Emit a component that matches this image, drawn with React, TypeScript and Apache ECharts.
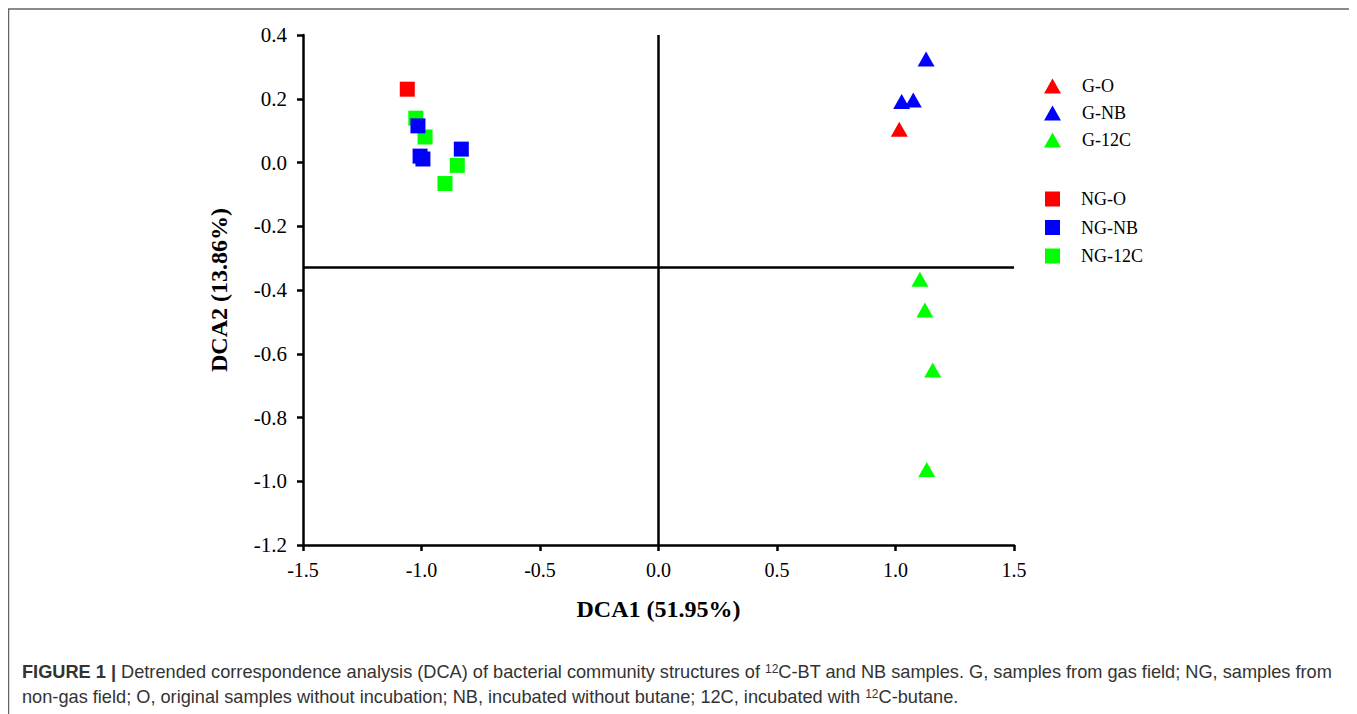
import React, { useEffect, useRef } from "react";
import * as echarts from "echarts";

const gO: number[][] = [[1.016, 0.104]];
const gNB: number[][] = [[1.129, 0.325], [1.026, 0.191], [1.075, 0.196]];
const g12C: number[][] = [[1.103, -0.366], [1.124, -0.463], [1.157, -0.651], [1.132, -0.963]];
const ngO: number[][] = [[-1.06, 0.23]];
const ngNB: number[][] = [[-1.015, 0.115], [-1.006, 0.02], [-0.994, 0.011], [-0.832, 0.042]];
const ng12C: number[][] = [[-1.024, 0.139], [-0.985, 0.08], [-0.849, -0.009], [-0.901, -0.066]];

const xCross = 0;
const yCross = -0.325;

const RED = "#FF0000";
const BLUE = "#0000FF";
const GREEN = "#00FF00";
const SERIF = "'Liberation Serif', 'Times New Roman', serif";
const SANS = "'Liberation Sans', Arial, sans-serif";

export default function App() {
  const ref = useRef<HTMLDivElement>(null);
  useEffect(() => {
    const chart = echarts.init(ref.current!, null, { renderer: "svg" });
    const tri = (name: string, data: number[][], color: string) => ({
      name, type: "scatter", data, symbol: "triangle", symbolSize: [17, 15],
      itemStyle: { color, opacity: 1 }, z: 3,
    });
    const sq = (name: string, data: number[][], color: string) => ({
      name, type: "scatter", data, symbol: "rect", symbolSize: 15,
      itemStyle: { color, opacity: 1 }, z: 3,
    });
    const legendText = { fontFamily: SERIF, fontSize: 18, color: "#000", padding: [0, 0, 0, 16] };
    chart.setOption({
      animation: false,
      grid: { left: 295, top: 27, right: 343, bottom: 169, containLabel: false },
      xAxis: {
        type: "value", min: -1.5, max: 1.5, interval: 0.5,
        name: "DCA1 (51.95%)", nameLocation: "middle", nameGap: 52,
        nameTextStyle: { fontFamily: SERIF, fontSize: 24, fontWeight: "bold", color: "#000" },
        axisLine: { onZero: false, lineStyle: { color: "#000", width: 2.5 } },
        axisTick: { show: true, length: 6, lineStyle: { color: "#000", width: 2.5 } },
        axisLabel: { fontFamily: SERIF, fontSize: 20, color: "#000", margin: 15, formatter: (v: number) => v.toFixed(1) },
        splitLine: { show: false },
      },
      yAxis: {
        type: "value", min: -1.2, max: 0.4, interval: 0.2,
        name: "DCA2 (13.86%)", nameLocation: "middle", nameGap: 72,
        nameTextStyle: { fontFamily: SERIF, fontSize: 24, fontWeight: "bold", color: "#000" },
        axisLine: { onZero: false, lineStyle: { color: "#000", width: 2.5 } },
        axisTick: { show: true, length: 6, lineStyle: { color: "#000", width: 2.5 } },
        axisLabel: { fontFamily: SERIF, fontSize: 21, color: "#000", margin: 16, formatter: (v: number) => v.toFixed(1) },
        splitLine: { show: false },
      },
      legend: [
        {
          orient: "vertical", left: 1031, top: 64, itemWidth: 17, itemHeight: 15, itemGap: 9,
          data: [
            { name: "G-O", icon: "triangle" },
            { name: "G-NB", icon: "triangle" },
            { name: "G-12C", icon: "triangle" },
          ],
          textStyle: legendText, selectedMode: false,
        },
        {
          orient: "vertical", left: 1032, top: 177, itemWidth: 15, itemHeight: 15, itemGap: 10.5,
          data: [
            { name: "NG-O", icon: "rect" },
            { name: "NG-NB", icon: "rect" },
            { name: "NG-12C", icon: "rect" },
          ],
          textStyle: legendText, selectedMode: false,
        },
      ],
      series: [
        {
          type: "scatter", data: [], silent: true,
          markLine: {
            silent: true, symbol: "none", label: { show: false },
            lineStyle: { color: "#000", width: 2.5, type: "solid" },
            data: [{ xAxis: xCross }, { yAxis: yCross }],
          },
        },
        tri("G-O", gO, RED),
        tri("G-NB", gNB, BLUE),
        tri("G-12C", g12C, GREEN),
        sq("NG-12C", ng12C, GREEN),
        sq("NG-NB", ngNB, BLUE),
        sq("NG-O", ngO, RED),
      ],
      graphic: [
        {
          type: "rect", silent: true, z: -1,
          shape: { x: 0.5, y: 1, width: 1346, height: 720 },
          style: { fill: "none", stroke: "#666", lineWidth: 1.5 },
        },
        {
          type: "text", left: 14, top: 655,
          style: {
            text: "{b|FIGURE 1 |} Detrended correspondence analysis (DCA) of bacterial community structures of {s|12}C-BT and NB samples. G, samples from gas field; NG, samples from",
            fontFamily: SANS, fontSize: 18.2, fill: "#333",
            rich: {
              b: { fontFamily: SANS, fontSize: 18.2, fontWeight: "bold", fill: "#333" },
              s: { fontFamily: SANS, fontSize: 12, fill: "#333", verticalAlign: "top" },
            },
          },
        },
        {
          type: "text", left: 14, top: 680,
          style: {
            text: "non-gas field; O, original samples without incubation; NB, incubated without butane; 12C, incubated with {s|12}C-butane.",
            fontFamily: SANS, fontSize: 18.2, fill: "#333",
            rich: {
              s: { fontFamily: SANS, fontSize: 12, fill: "#333", verticalAlign: "top" },
            },
          },
        },
      ],
    });
    return () => chart.dispose();
  }, []);
  return <div ref={ref} style={{ width: 1349, height: 706 }} />;
}
